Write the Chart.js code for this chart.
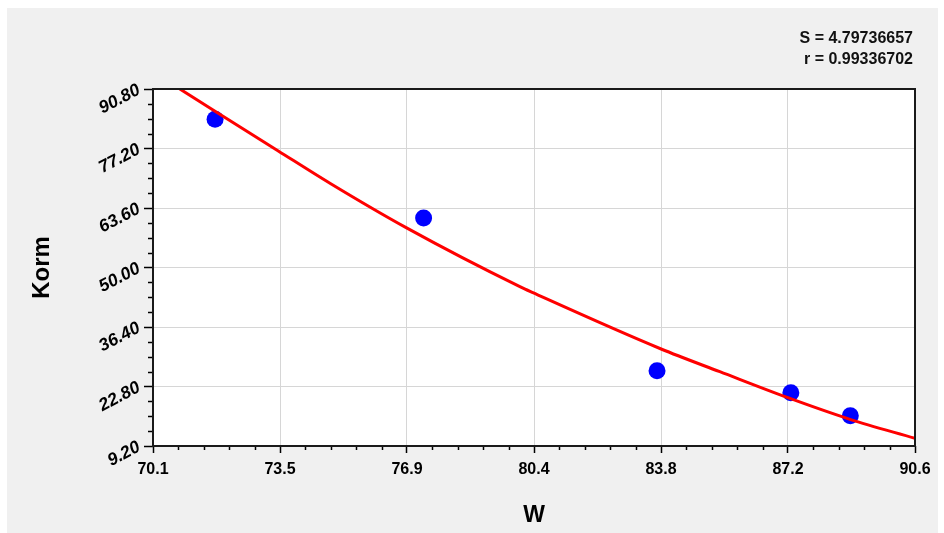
<!DOCTYPE html>
<html>
<head>
<meta charset="utf-8">
<script src="https://cdn.jsdelivr.net/npm/chart.js@4.4.0/dist/chart.umd.min.js"></script>
<style>
  html, body { margin: 0; padding: 0; background: #ffffff; }
  canvas { display: block; }
</style>
</head>
<body>
<canvas id="grafico" width="944" height="533"></canvas>
<script>
// observed points
const obsW = [71.77, 77.38, 83.66, 87.26, 88.86];
const obsKorm = [83.87, 61.31, 26.41, 21.38, 16.13];

// fitted curve
const curveW = [70.78, 73.46, 74.86, 76.91, 79.97, 80.32, 83.77, 85.35, 87.18, 88.85, 90.6];
const curveKorm = [91.03, 76.70, 69.25, 59.10, 45.61, 44.24, 31.37, 26.18, 20.24, 15.30, 10.96];

const xLabels = ['70.1', '73.5', '76.9', '80.4', '83.8', '87.2', '90.6'];
const yLabels = ['9.20', '22.80', '36.40', '50.00', '63.60', '77.20', '90.80'];
const xMin = 70.1, xMax = 90.6;
const yMin = 9.2, yMax = 90.8;

const statS = 'S = 4.79736657';
const statR = 'r = 0.99336702';

const fonte = "'Liberation Sans', Arial, Helvetica, sans-serif";

function toPts(xs, ys) {
  return xs.map((x, i) => ({ x: x, y: ys[i] }));
}

const fundo = {
  id: 'fundo',
  beforeDraw(chart) {
    const ctx = chart.ctx;
    const a = chart.chartArea;
    ctx.save();
    ctx.fillStyle = '#ffffff';
    ctx.fillRect(0, 0, chart.width, chart.height);
    ctx.fillStyle = '#f0f0f0';
    ctx.fillRect(7, 8, 931, 525);
    ctx.fillStyle = '#ffffff';
    ctx.fillRect(a.left, a.top, a.right - a.left, a.bottom - a.top);
    ctx.restore();
  },
  afterDraw(chart) {
    const ctx = chart.ctx;
    const a = chart.chartArea;
    const xs = chart.scales.x, ys = chart.scales.y;
    ctx.save();
    // minor ticks
    ctx.strokeStyle = '#000';
    ctx.lineWidth = 1.5;
    ctx.beginPath();
    const xStep = (xMax - xMin) / 6 / 5;
    for (let i = 1; i < 30; i++) {
      if (i % 5 === 0) continue;
      const px = Math.round(xs.getPixelForValue(xMin + i * xStep)) + 0.5;
      ctx.moveTo(px, a.bottom);
      ctx.lineTo(px, a.bottom + 4);
    }
    const yStep = (yMax - yMin) / 6 / 4;
    for (let i = 1; i < 24; i++) {
      if (i % 4 === 0) continue;
      const py = Math.round(ys.getPixelForValue(yMin + i * yStep)) + 0.5;
      ctx.moveTo(a.left, py);
      ctx.lineTo(a.left - 5, py);
    }
    ctx.stroke();
    // frame
    ctx.lineWidth = 2;
    ctx.strokeStyle = '#1a1a1a';
    ctx.strokeRect(a.left, a.top, a.right - a.left, a.bottom - a.top);
    // stats
    ctx.fillStyle = '#111';
    ctx.font = 'bold 16px ' + fonte;
    ctx.textAlign = 'right';
    ctx.textBaseline = 'middle';
    ctx.fillText(statS, 913, 39);
    ctx.fillText(statR, 913, 60);
    ctx.restore();
  }
};

const ctx = document.getElementById('grafico').getContext('2d');
new Chart(ctx, {
  type: 'scatter',
  data: {
    datasets: [
      {
        label: 'ajuste',
        data: toPts(curveW, curveKorm),
        showLine: true,
        borderColor: '#ff0000',
        borderWidth: 3,
        pointRadius: 0,
        cubicInterpolationMode: 'monotone',
        fill: false
      },
      {
        label: 'dados',
        data: toPts(obsW, obsKorm),
        backgroundColor: '#0000ff',
        borderColor: '#0000ff',
        borderWidth: 0,
        pointRadius: 8.5,
        pointHoverRadius: 8.5
      }
    ]
  },
  options: {
    responsive: false,
    animation: false,
    devicePixelRatio: 1,
    layout: { padding: { left: 0, top: 89, right: 29, bottom: 0 } },
    plugins: {
      legend: { display: false },
      tooltip: { enabled: false }
    },
    scales: {
      x: {
        type: 'linear',
        min: xMin,
        max: xMax,
        afterBuildTicks(scale) {
          scale.ticks = xLabels.map((l, i) => ({ value: xMin + i * (xMax - xMin) / 6 }));
        },
        afterFit(scale) { scale.height = 87; },
        border: { display: false },
        grid: { color: '#d6d6d6', lineWidth: 1, drawTicks: true, tickLength: 7, tickColor: '#000', tickWidth: 1.5 },
        ticks: {
          color: '#000',
          padding: 7,
          maxRotation: 0,
          font: { family: fonte, size: 16, weight: 'bold' },
          callback: (v, i) => xLabels[i]
        },
        title: {
          display: true,
          text: 'W',
          color: '#000',
          font: { family: fonte, size: 23, weight: 'bold' },
          padding: { top: 0, bottom: 4 }
        }
      },
      y: {
        type: 'linear',
        min: yMin,
        max: yMax,
        afterBuildTicks(scale) {
          scale.ticks = yLabels.map((l, i) => ({ value: yMin + i * (yMax - yMin) / 6 }));
        },
        afterFit(scale) { scale.width = 153; },
        border: { display: false },
        grid: { color: '#d6d6d6', lineWidth: 1, drawTicks: true, tickLength: 9, tickColor: '#000', tickWidth: 1.5 },
        ticks: {
          color: '#000',
          padding: 5,
          minRotation: 28,
          maxRotation: 28,
          font: { family: fonte, size: 17.5, weight: 'bold', style: 'italic' },
          callback: (v, i) => yLabels[i]
        },
        title: {
          display: true,
          text: 'Korm',
          color: '#000',
          font: { family: fonte, size: 24, weight: 'bold' },
          padding: { top: 28, bottom: 0 }
        }
      }
    }
  },
  plugins: [fundo]
});
</script>
</body>
</html>
